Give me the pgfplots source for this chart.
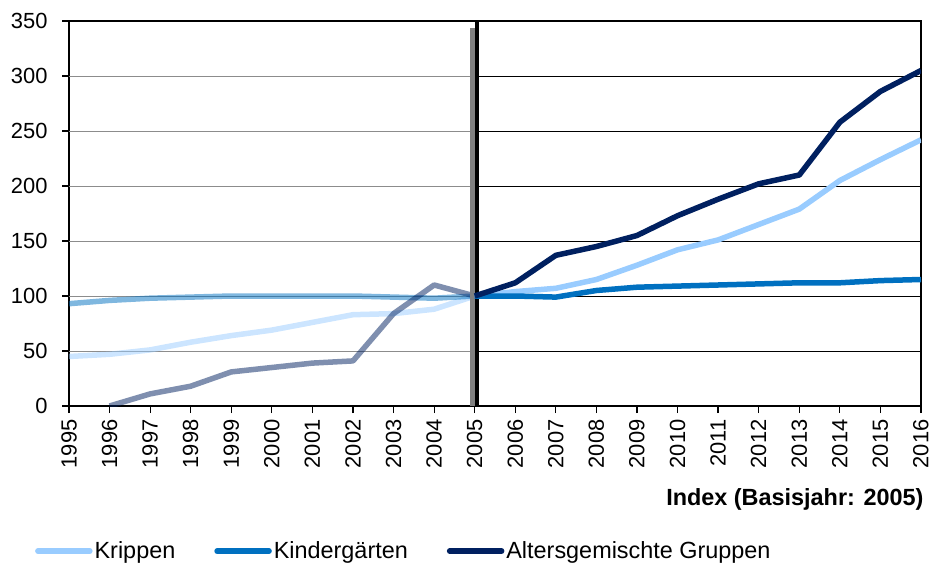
\documentclass[border=0pt]{standalone}
\usepackage{pgfplots}
\pgfplotsset{compat=1.18}
\usepackage{fontspec}
\setmainfont{Liberation Sans}
\definecolor{krip}{RGB}{153,204,255}
\definecolor{kiga}{RGB}{0,112,192}
\definecolor{alt}{RGB}{0,32,96}
\definecolor{gridgray}{RGB}{140,140,140}

\begin{document}
\begin{tikzpicture}
\begin{axis}[
  scale only axis,
  width=852bp, height=385bp,
  xmin=1995, xmax=2016,
  ymin=0, ymax=350,
  xtick={1995,...,2016},
  ytick={0,50,...,350},
  xtick pos=bottom, ytick pos=left,
  tick align=outside,
  major tick length=7bp,
  tick style={black, line width=1.2bp},
  axis line style={black, line width=1.5bp},
  /pgf/number format/assume math mode=true,
  /pgf/number format/1000 sep={},
  ticklabel style={font=\fontsize{22}{22}\selectfont},
  xticklabel style={rotate=90, anchor=east, xshift=-3bp},
  yticklabel style={xshift=-11bp},
  legend columns=3,
  legend style={
    at={(axis description cs:-0.040,-0.377)}, anchor=west,
    draw=none, fill=none, inner sep=0pt,
    font=\fontsize{23.5}{23.5}\selectfont,
    nodes={inner sep=2bp},
    /tikz/every even column/.append style={column sep=37bp}},
  legend image code/.code={\draw[#1, line width=5.5bp, line cap=round] (0bp,0bp) -- (52bp,0bp);},
  every axis plot/.append style={line width=5.5bp, line join=round},
]

% grid, grey left of 2005, black right of it
\pgfplotsinvokeforeach{50,100,...,300}{
  \draw[gridgray, line width=1bp] (axis cs:1995,#1) -- (axis cs:2005,#1);
  \draw[black, line width=1bp] (axis cs:2005,#1) -- (axis cs:2016,#1);
}
\draw[black, line width=1.5bp] (axis cs:1995,350) -- (axis cs:2016,350);

% before 2005 (faded)
\addplot[krip, opacity=0.5, forget plot] coordinates {
  (1995,45) (1996,47) (1997,51) (1998,58) (1999,64) (2000,69)
  (2001,76) (2002,83) (2003,84) (2004,88) (2005,100)};
\addplot[kiga, opacity=0.5, forget plot] coordinates {
  (1995,93) (1996,96) (1997,98) (1998,99) (1999,100) (2000,100)
  (2001,100) (2002,100) (2003,99) (2004,98) (2005,100)};
\addplot[alt, opacity=0.5, forget plot] coordinates {
  (1996,0) (1997,11) (1998,18) (1999,31) (2000,35) (2001,39)
  (2002,41) (2003,84) (2004,110) (2005,100)};

% vertical separator at 2005
\draw[gray, line width=4.5bp] ([xshift=-2.3bp]axis cs:2005,0) -- ([xshift=-2.3bp]axis cs:2005,344);
\draw[black, line width=4.5bp] ([xshift=2.3bp]axis cs:2005,0) -- ([xshift=2.3bp]axis cs:2005,350);

% from 2005
\addplot[krip] coordinates {
  (2005,100) (2006,104) (2007,107) (2008,115) (2009,128) (2010,142)
  (2011,151) (2012,165) (2013,179) (2014,205) (2015,224) (2016,242)};
\addlegendentry{Krippen}
\addplot[kiga] coordinates {
  (2005,100) (2006,100) (2007,99) (2008,105) (2009,108) (2010,109)
  (2011,110) (2012,111) (2013,112) (2014,112) (2015,114) (2016,115)};
\addlegendentry{Kindergärten}
\addplot[alt] coordinates {
  (2005,100) (2006,112) (2007,137) (2008,145) (2009,155) (2010,173)
  (2011,188) (2012,202) (2013,210) (2014,258) (2015,286) (2016,305)};
\addlegendentry{Altersgemischte Gruppen}
\end{axis}

\node[anchor=east, font=\bfseries\fontsize{23.5}{23.5}\selectfont]
  at ([xshift=6bp, yshift=-93bp]current axis.south east) {Index (Basisjahr: 2005)};

\pgfresetboundingbox
\path ([shift={(-69bp,-158bp)}]current axis.south west)
  rectangle ([shift={(11bp,21bp)}]current axis.north east);
\end{tikzpicture}
\end{document}
